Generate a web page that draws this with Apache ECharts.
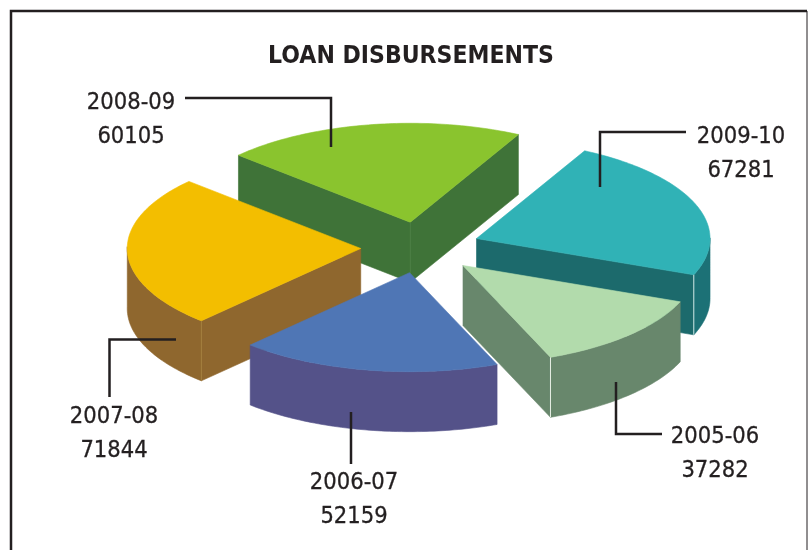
<!DOCTYPE html>
<html>
<head>
<meta charset="utf-8">
<title>Loan disbursements</title>
<style>html,body{margin:0;padding:0;background:#fff}#chart{width:808px;height:550px}</style>
<script src="https://cdn.jsdelivr.net/npm/echarts@6/dist/echarts.min.js"></script>
</head>
<body>
<div id="chart"></div>
<script>
// Disbursements per financial year, clockwise from the first sector.
var years = ['2005-06', '2006-07', '2007-08', '2008-09', '2009-10'];
var disbursements = [37282, 52159, 71844, 60105, 67281];

// Sector colours: top face, outer wall, cut wall, corner seam.
var topColors = ['#B2DBAC', '#4F76B5', '#F3BE00', '#8AC42E', '#30B2B6'];
var wallColors = ['#68876C', '#545289', '#8F672E', '#3F7338', '#1C7176'];
var cutColors = ['#68876C', '#545289', '#8F672E', '#3F7338', '#1C6A6C'];
var seamColors = ['#E9F1E6', '#545289', '#A5803F', '#4B7F44', '#CFE6E4'];

// Projection of the tilted pie.
var view = { cx: 420.5, cy: 247.5, rx: 233.5, ry: 99, depth: 60, shiftX: 59.8, shiftY: 25.6, startDeg: 21.5 };

// Callout placement: leader path plus the centre of each of the two text rows.
var callouts = [
  { path: [[616, 382], [616, 434], [662, 434]], x: 715, y: [437, 471] },
  { path: [[351, 412], [351, 464]], x: 354, y: [483, 517] },
  { path: [[176, 339.5], [109.5, 339.5], [109.5, 397]], x: 114, y: [417, 451] },
  { path: [[185, 98], [331, 98], [331, 147]], x: 131, y: [103, 137] },
  { path: [[686, 132], [600, 132], [600, 187]], x: 741, y: [137, 171] }
];

var total = disbursements.reduce(function (a, b) { return a + b; }, 0);
var sectors = [];
disbursements.reduce(function (acc, v, i) {
  var span = v / total * 360;
  sectors.push({ index: i, value: v, start: acc, end: acc + span });
  return acc + span;
}, view.startDeg);

function rad(d) { return d * Math.PI / 180; }

function sectorGeometry(s) {
  var mid = rad((s.start + s.end) / 2);
  var apex = [view.cx + view.shiftX * Math.cos(mid), view.cy + view.shiftY * Math.sin(mid)];
  function rim(deg) {
    return [apex[0] + view.rx * Math.cos(rad(deg)), apex[1] + view.ry * Math.sin(rad(deg))];
  }
  return { apex: apex, rim: rim };
}

function drop(p) { return [p[0], p[1] + view.depth]; }

function polygon(points, color) {
  return {
    type: 'polygon',
    shape: { points: points },
    style: { fill: color, stroke: color, lineWidth: 0.6 }
  };
}

function wall(a, b, color) { return polygon([a, b, drop(b), drop(a)], color); }

function seam(p, color) {
  var q = drop(p);
  return {
    type: 'line',
    shape: { x1: p[0], y1: p[1], x2: q[0], y2: q[1] },
    style: { stroke: color, lineWidth: 1 }
  };
}

// One extruded sector: visible walls first, top face over them.
function renderSector(params, api) {
  var s = sectors[api.value(0)];
  var g = sectorGeometry(s);
  var kids = [];
  var startCorner = g.rim(s.start);
  var endCorner = g.rim(s.end);
  var startShown = Math.sin(rad(s.start - 90)) > 0;
  var endShown = Math.sin(rad(s.end + 90)) > 0;

  if (startShown) kids.push(wall(g.apex, startCorner, cutColors[s.index]));
  if (endShown) kids.push(wall(g.apex, endCorner, cutColors[s.index]));

  // Outer wall, walked along the rim.
  var upper = [], d;
  for (d = s.start; d < s.end; d += 1) {
    if (Math.sin(rad(d)) > -0.02) upper.push(g.rim(d));
  }
  if (Math.sin(rad(s.end)) > -0.02) upper.push(endCorner);
  if (upper.length > 1) {
    kids.push(polygon(upper.concat(upper.map(drop).reverse()), wallColors[s.index]));
  }

  // Top face.
  var top = [g.apex];
  for (d = s.start; d < s.end; d += 1) top.push(g.rim(d));
  top.push(endCorner);
  kids.push(polygon(top, topColors[s.index]));

  if (startShown && Math.sin(rad(s.start)) > 0) kids.push(seam(startCorner, seamColors[s.index]));
  if (endShown && Math.sin(rad(s.end)) > 0) kids.push(seam(endCorner, seamColors[s.index]));
  if (startShown && endShown) kids.push(seam(g.apex, seamColors[s.index]));
  return { type: 'group', children: kids };
}

// Leader line and the year / amount rows for one sector.
function renderCallout(params, api) {
  var i = api.value(0);
  var c = callouts[i];
  var rows = [years[i], String(disbursements[i])];
  var kids = [{
    type: 'polyline',
    shape: { points: c.path },
    style: { stroke: '#231F20', lineWidth: 2.5, fill: null }
  }];
  rows.forEach(function (text, r) {
    kids.push({
      type: 'text',
      style: {
        x: c.x, y: c.y[r], text: text, align: 'center', verticalAlign: 'middle',
        fill: '#231F20', stroke: '#231F20', lineWidth: 0.3,
        font: '23.5px "DejaVu Sans Condensed", "DejaVu Sans", sans-serif'
      }
    });
  });
  return { type: 'group', children: kids };
}

// Far sectors are painted first so that nearer ones overlap them.
var paintOrder = sectors.slice().sort(function (a, b) {
  return Math.sin(rad((a.start + a.end) / 2)) - Math.sin(rad((b.start + b.end) / 2));
}).map(function (s) { return [s.index, s.value]; });

var chart = echarts.init(document.getElementById('chart'), null, { renderer: 'canvas' });
chart.setOption({
  animation: false,
  backgroundColor: '#ffffff',
  title: {
    text: 'LOAN DISBURSEMENTS',
    left: 406,
    top: 39,
    textAlign: 'center',
    textStyle: {
      color: '#231F20',
      fontSize: 24.5,
      fontWeight: 'bold',
      fontFamily: '"DejaVu Sans Condensed", "DejaVu Sans", sans-serif'
    }
  },
  graphic: [
    { type: 'polyline', z: 0, shape: { points: [[11, 560], [11, 11], [807, 11]] }, style: { stroke: '#231F20', lineWidth: 2.5, fill: null } },
    { type: 'line', z: 0, shape: { x1: 807, y1: 11, x2: 807, y2: 560 }, style: { stroke: '#231F20', lineWidth: 1 } }
  ],
  series: [
    { type: 'custom', coordinateSystem: 'none', renderItem: renderSector, data: paintOrder, silent: true, z: 2 },
    { type: 'custom', coordinateSystem: 'none', renderItem: renderCallout,
      data: years.map(function (y, i) { return [i]; }), silent: true, z: 3 }
  ]
});
</script>
</body>
</html>
